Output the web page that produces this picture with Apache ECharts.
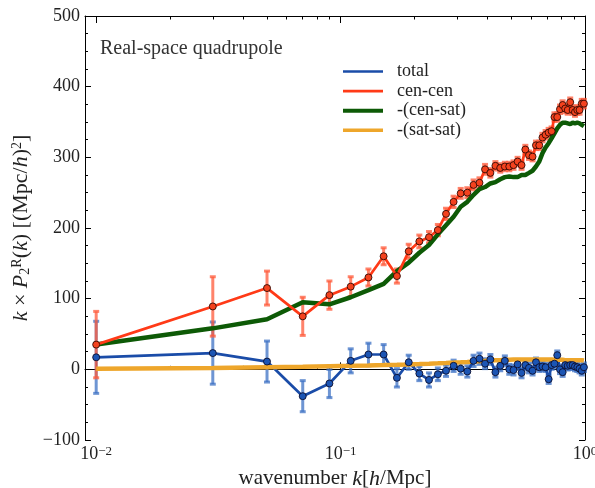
<!DOCTYPE html>
<html>
<head>
<meta charset="utf-8">
<script src="https://cdn.jsdelivr.net/npm/echarts@6/dist/echarts.min.js"></script>
<style>
  html, body { margin: 0; padding: 0; background: #fff; }
  #chart { width: 595px; height: 488px; }
</style>
</head>
<body>
<div id="chart"></div>
<script>
// wavenumbers (h/Mpc)
var kValues = [0.01, 0.03, 0.05, 0.07, 0.09, 0.11, 0.13, 0.15, 0.17, 0.19,
  0.21, 0.23, 0.25, 0.27, 0.29, 0.31, 0.33, 0.35, 0.37, 0.39,
  0.41, 0.43, 0.45, 0.47, 0.49, 0.51, 0.53, 0.55, 0.57, 0.59,
  0.61, 0.63, 0.65, 0.67, 0.69, 0.71, 0.73, 0.75, 0.77, 0.79,
  0.81, 0.83, 0.85, 0.87, 0.89, 0.91, 0.93, 0.95, 0.97, 0.99];

var total = [17, 23, 11, -38, -20, 12, 21, 21, -12, 10,
  -6, -15, -7, -2, 5, 1, -3, 12, 15, 8,
  14, -4, 5, 12, 0, -1, 7, -5, 6, 2,
  -2, 10, 3, 4, 3, -14, 6, 8, 20, 0,
  -4, 6, 5, 6, 6, 4, 3, 1, -2, 3];
var totalErr = [51, 44, 29, 22, 20, 17, 16, 14, 13, 10,
  10, 10, 9, 8, 8, 8, 8, 8, 8, 7,
  7, 7, 7, 7, 7, 7, 7, 7, 7, 7,
  6, 6, 6, 6, 6, 6, 6, 6, 6, 6,
  6, 6, 6, 6, 6, 6, 6, 6, 6, 6];

var cenCen = [35, 89, 115, 75, 105, 117, 130, 160, 132, 167,
  181, 187, 197, 220, 237, 249, 250, 261, 264, 283,
  278, 288, 285, 287, 287, 289, 294, 289, 311, 303,
  301, 317, 317, 328, 332, 335, 337, 357, 357, 368,
  374, 369, 367, 378, 367, 364, 367, 367, 376, 376];
var cenCenErr = [47, 42, 24, 27, 20, 14, 12, 12, 10, 10,
  9, 8, 8, 8, 8, 7, 7, 7, 7, 7,
  6, 6, 6, 6, 6, 6, 6, 6, 6, 6,
  6, 6, 6, 6, 6, 6, 6, 6, 6, 6,
  6, 6, 6, 6, 6, 6, 6, 6, 6, 6];

var cenSat = [35, 58, 71, 95, 92, 102, 112, 121, 139, 151,
  165, 176, 191, 204, 216, 230, 237, 247, 255, 258,
  263, 265, 269, 272, 273, 272, 272, 275, 275, 278,
  281, 287, 294, 306, 314, 320, 327, 334, 341, 346,
  349, 349, 348, 347, 349, 348, 349, 348, 346, 344];

var satSat = [1, 2, 3, 3.5, 4.5, 5, 5.5, 6, 6.5, 7,
  7.5, 8, 8.5, 9, 9.5, 10, 10.5, 11, 11.5, 12,
  12.5, 13, 13, 13.5, 13.5, 14, 14, 14, 14, 14,
  14, 14, 14, 14, 14, 14, 14, 13.5, 13.5, 13.5,
  13.5, 13, 13, 13, 13, 13, 13, 13, 13, 12.5];

var majorK = [0.01, 0.1, 1];
var minorK = [0.02, 0.03, 0.04, 0.05, 0.06, 0.07, 0.08, 0.09,
  0.2, 0.3, 0.4, 0.5, 0.6, 0.7, 0.8, 0.9];

var serif = 'Liberation Serif';
var colors = {
  total: '#1a4ca8', cenCen: '#ff3a17', cenSat: '#0d5a06', satSat: '#eea62b'
};

function pairs(ys) {
  return kValues.map(function (k, i) { return [k, ys[i]]; });
}
function triples(ys, es) {
  return kValues.map(function (k, i) { return [k, ys[i], es[i]]; });
}

// vertical error bar with small caps
function errorBars(color) {
  return function (params, api) {
    var x = api.value(0), y = api.value(1), e = api.value(2);
    var top = api.coord([x, y + e]);
    var bot = api.coord([x, y - e]);
    var style = { stroke: color, lineWidth: 3, opacity: 0.75 };
    return {
      type: 'group',
      children: [
        { type: 'line', shape: { x1: top[0], y1: top[1], x2: bot[0], y2: bot[1] }, style: style },
        { type: 'line', shape: { x1: top[0] - 3, y1: top[1], x2: top[0] + 3, y2: top[1] }, style: style },
        { type: 'line', shape: { x1: bot[0] - 3, y1: bot[1], x2: bot[0] + 3, y2: bot[1] }, style: style }
      ]
    };
  };
}

var richMath = {
  i: { fontFamily: serif, fontStyle: 'italic', fontSize: 22, color: '#222' },
  sup: { fontFamily: serif, fontSize: 14, verticalAlign: 'top', color: '#222' },
  sub: { fontFamily: serif, fontSize: 14, verticalAlign: 'bottom', color: '#222' }
};

function xAxisBase(pos, ticks, len, showLine) {
  return {
    type: 'log', logBase: 10, min: 0.009, max: 1, position: pos,
    axisLine: { show: showLine, lineStyle: { color: '#000', width: 1 } },
    axisTick: { show: true, inside: true, length: len, customValues: ticks, lineStyle: { color: '#000' } },
    axisLabel: { show: false },
    splitLine: { show: false }
  };
}

var bottomMajor = xAxisBase('bottom', majorK, 7, true);
bottomMajor.axisLabel = {
  show: true, customValues: majorK, margin: 5,
  fontFamily: serif, fontSize: 18, color: '#222',
  formatter: function (v) {
    var p = Math.round(Math.log10(v));
    return '10{sup|' + (p < 0 ? '\u2212' + (-p) : p) + '}';
  },
  rich: { sup: { fontFamily: serif, fontSize: 13, verticalAlign: 'top', color: '#222' } }
};
bottomMajor.name = 'wavenumber {i|k}[{i|h}/Mpc]';
bottomMajor.nameLocation = 'middle';
bottomMajor.nameGap = 23;
bottomMajor.nameTextStyle = { fontFamily: serif, fontSize: 21, color: '#222', rich: richMath };

function yAxisBase(pos, labels) {
  return {
    type: 'value', min: -100, max: 500, interval: 100, position: pos,
    axisLine: { show: true, lineStyle: { color: '#000', width: 1 } },
    axisTick: { show: true, inside: true, length: 6, lineStyle: { color: '#000' } },
    minorTick: { show: true, splitNumber: 4, length: 3, lineStyle: { color: '#000' } },
    axisLabel: {
      show: labels, margin: 5, fontFamily: serif, fontSize: 18, color: '#222',
      formatter: function (v) { return v < 0 ? '\u2212' + (-v) : String(v); }
    },
    splitLine: { show: false }
  };
}

var leftAxis = yAxisBase('left', true);
leftAxis.name = '{i|k} \u00d7 {i|P}{sub|2}{sup|R}({i|k}) [(Mpc/{i|h}){sup|2}]';
leftAxis.nameLocation = 'middle';
leftAxis.nameRotate = 90;
leftAxis.nameGap = 49;
leftAxis.nameTextStyle = { fontFamily: serif, fontSize: 22, color: '#222', rich: richMath };

var option = {
  backgroundColor: '#fff',
  animation: false,
  grid: { left: 85, right: 10, top: 16, bottom: 48, outerBoundsMode: 'none' },
  title: {
    text: 'Real-space quadrupole', left: 95, top: 34,
    textStyle: { fontFamily: serif, fontSize: 20, fontWeight: 'normal', color: '#333' }
  },
  legend: {
    orient: 'vertical', left: 341, top: 62, padding: 0,
    itemWidth: 40, itemHeight: 14, itemGap: 0.6,
    itemStyle: { opacity: 0 },
    data: [
      { name: 'total', lineStyle: { width: 2.7 } },
      { name: 'cen-cen', lineStyle: { width: 2.7 } },
      { name: '-(cen-sat)', lineStyle: { width: 4 } },
      { name: '-(sat-sat)', lineStyle: { width: 3.4 } }
    ],
    textStyle: { fontFamily: serif, fontSize: 18, lineHeight: 19, color: '#222', padding: [0, 0, 0, 9] }
  },
  xAxis: [
    bottomMajor,
    xAxisBase('bottom', minorK, 3.5, false),
    xAxisBase('top', majorK, 7, true),
    xAxisBase('top', minorK, 3.5, false)
  ],
  yAxis: [leftAxis, yAxisBase('right', false)],
  series: [
    { type: 'custom', name: 'totalErr', renderItem: errorBars('#3d72c4'), data: triples(total, totalErr), z: 1 },
    { type: 'custom', name: 'cenCenErr', renderItem: errorBars('#ff5a3a'), data: triples(cenCen, cenCenErr), z: 1 },
    { type: 'line', name: '-(cen-sat)', data: pairs(cenSat), symbol: 'none', z: 2,
      lineStyle: { color: colors.cenSat, width: 4.5 }, itemStyle: { color: colors.cenSat } },
    { type: 'line', name: 'total', data: pairs(total), symbol: 'none', z: 2,
      lineStyle: { color: colors.total, width: 2.7 }, itemStyle: { color: colors.total } },
    { type: 'line', name: '-(sat-sat)', data: pairs(satSat), symbol: 'none', z: 3,
      lineStyle: { color: colors.satSat, width: 4.5 }, itemStyle: { color: colors.satSat } },
    { type: 'line', name: 'cen-cen', data: pairs(cenCen), symbol: 'none', z: 3,
      lineStyle: { color: colors.cenCen, width: 2.7 }, itemStyle: { color: colors.cenCen } },
    { type: 'scatter', name: 'totalPts', data: pairs(total), symbolSize: 7, z: 5,
      itemStyle: { color: '#1c55b4', borderColor: 'rgba(10,10,40,0.85)', borderWidth: 1, opacity: 1 } },
    { type: 'scatter', name: 'cenCenPts', data: pairs(cenCen), symbolSize: 7, z: 5,
      itemStyle: { color: '#f4421e', borderColor: 'rgba(40,5,0,0.85)', borderWidth: 1, opacity: 1 } }
  ]
};

var chart = echarts.init(document.getElementById('chart'), null, { renderer: 'canvas' });
chart.setOption(option);
</script>
</body>
</html>
